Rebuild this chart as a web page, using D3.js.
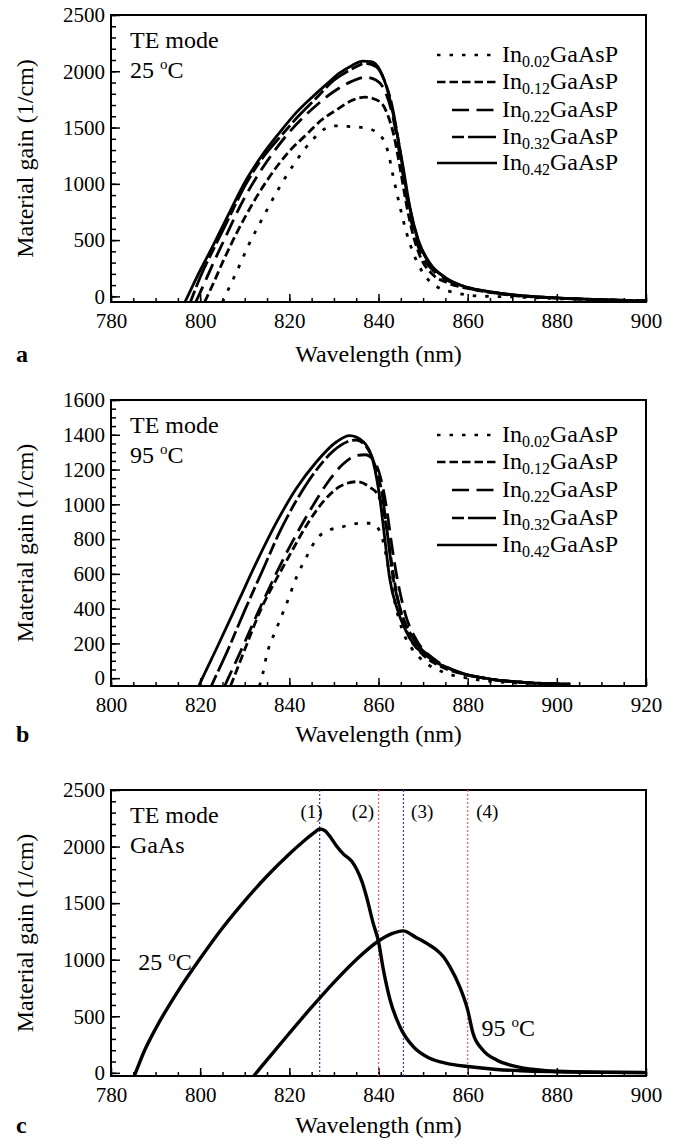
<!DOCTYPE html>
<html>
<head>
<meta charset="utf-8">
<script src="https://cdn.jsdelivr.net/npm/d3@7"></script>
<style>
	body { margin: 0; background: #fff; }
	svg { display: block; }
	svg text { font-family: "Times New Roman", Times, "Liberation Serif", "DejaVu Serif", serif; }
</style>
</head>
<body>
<div id="chart"></div>
<script>
// ---- data ----
// In composition of each well (legend order)
var inContent = ["0.02", "0.12", "0.22", "0.32", "0.42"];

// tick labels
var xTicksA = [780, 800, 820, 840, 860, 880, 900];
var yTicksA = [0, 500, 1000, 1500, 2000, 2500];
var xTicksB = [800, 820, 840, 860, 880, 900, 920];
var yTicksB = [0, 200, 400, 600, 800, 1000, 1200, 1400, 1600];

// panel a : 25 C, [wavelength nm, gain 1/cm]
var a002 = [[805, -50], [805.6, 0], [806.7, 95], [808.2, 220], [810.8, 450], [814.2, 710], [817.5, 950], [821.3, 1190], [825.4, 1400], [828, 1490], [830.5, 1515], [833, 1510], [837.3, 1494], [840.3, 1435], [842.2, 1273], [843.3, 1065], [844.8, 799], [846.3, 563], [847.8, 385], [850, 207], [853, 89], [857.5, 30], [862, 5], [870, -5], [880, -20], [890, -32], [900, -40]];
var a012 = [[801, -50], [801.6, 0], [803, 120], [805, 300], [810, 700], [815, 1030], [820, 1290], [823.9, 1440], [827, 1560], [830.6, 1657], [834.3, 1746], [837, 1770], [840.3, 1731], [842.2, 1598], [843.5, 1420], [844.8, 1150], [846.2, 830], [847.8, 540], [849.5, 340], [852, 200], [855.5, 120], [860, 70], [865, 35], [870, 10], [880, -15], [890, -30], [900, -40]];
var a022 = [[799, -50], [799.6, 0], [803, 300], [805, 470], [810, 880], [815, 1200], [820, 1460], [825, 1660], [830, 1820], [834, 1910], [837, 1947], [839.5, 1920], [841.5, 1820], [843.2, 1600], [844.8, 1250], [846.3, 880], [847.8, 590], [849.5, 380], [852, 240], [855.5, 140], [860, 75], [865, 38], [870, 12], [880, -15], [890, -30], [900, -40]];
var a032 = [[797.8, -50], [798.3, 0], [800, 170], [803, 420], [806, 660], [810, 980], [814, 1230], [818, 1420], [822, 1600], [826, 1760], [830, 1920], [834, 2020], [837, 2070], [839.5, 2040], [841.3, 1920], [843, 1700], [844.6, 1350], [846, 1000], [847.5, 700], [849, 480], [851.5, 290], [855.2, 160], [860, 78], [865, 40], [870, 14], [880, -14], [890, -30], [900, -40]];
var a042 = [[796.6, -50], [797.2, 0], [800, 230], [803, 460], [806, 700], [810.4, 1040], [814, 1260], [817.9, 1460], [821.5, 1630], [825.4, 1780], [828.5, 1890], [831.3, 1985], [834, 2050], [836.5, 2090], [838.3, 2085], [840.3, 2012], [842.2, 1805], [844, 1479], [845.5, 1154], [847, 799], [848.9, 503], [851.5, 296], [855.2, 163], [860, 80], [865, 42], [870, 15], [880, -14], [890, -30], [900, -40]];

// panel b : 95 C
var b002 = [[833.3, -45], [834, 20], [834.9, 130], [837.2, 290], [839.4, 430], [841.6, 580], [843.9, 700], [846.1, 800], [849.1, 853], [852.1, 872], [855.8, 891], [858.4, 891], [860.4, 840], [861.6, 720], [862.6, 580], [863.8, 420], [865.3, 280], [867.5, 170], [870.5, 90], [875, 30], [880, 0], [886, -20], [893, -30], [903, -35]];
var b012 = [[826.8, -45], [827.5, 0], [830.4, 191], [833.4, 383], [837.2, 575], [840.1, 709], [843.9, 881], [847.6, 1015], [851.3, 1102], [855.1, 1130], [858.1, 1098], [859.9, 1054], [861.2, 950], [862.4, 760], [863.5, 570], [864.8, 400], [866.5, 260], [869, 160], [873, 80], [878, 30], [885, -5], [893, -25], [903, -35]];
var b022 = [[825.5, -45], [826.3, 0], [829, 150], [833, 380], [837, 600], [841, 800], [845, 980], [849, 1140], [852, 1230], [855, 1280], [857, 1285], [859, 1250], [860.5, 1150], [861.8, 980], [863, 760], [864.3, 560], [866, 370], [868.5, 220], [872.5, 110], [878, 35], [885, -5], [893, -25], [903, -35]];
var b032 = [[822.5, -45], [823.3, 0], [826, 150], [830, 390], [834, 620], [838, 850], [842, 1040], [846, 1195], [850, 1310], [853, 1360], [855, 1370], [857, 1340], [859, 1240], [860.8, 1060], [862, 830], [863.2, 590], [865, 390], [867.5, 240], [872, 115], [878, 35], [885, -5], [893, -25], [903, -35]];
var b042 = [[819.7, -45], [820.5, 0], [823.7, 172], [828.9, 460], [832.7, 670], [837.2, 900], [841.6, 1092], [846.1, 1245], [850.6, 1360], [853.5, 1395], [856.6, 1360], [858.8, 1245], [860.3, 1035], [861.4, 805], [862.5, 575], [864.4, 383], [867, 230], [871.5, 115], [877.5, 38], [885, -5], [893, -25], [903, -35]];

// panel c : GaAs at 25 C and 95 C
var c25 = [[785.2, -28], [785.5, 0], [787.5, 195], [790, 390], [795, 720], [800, 1010], [805, 1280], [810, 1520], [815, 1740], [820, 1935], [823, 2040], [825.5, 2120], [826.8, 2155], [828, 2140], [829.1, 2090], [830.5, 2010], [832.1, 1935], [834, 1870], [835.1, 1800], [836.3, 1690], [837.3, 1558], [838.8, 1323], [840, 1160], [841.1, 910], [842.6, 644], [844.8, 408], [847.8, 231], [851.5, 128], [855.3, 84], [860, 56], [866.5, 30], [872, 18], [880, 10], [890, 5], [900, 2]];
var c95 = [[812, -28], [812.6, 0], [815, 115], [820, 350], [825, 580], [830, 800], [835, 1000], [840, 1165], [843, 1230], [845.5, 1255], [848.5, 1195], [851, 1140], [853, 1087], [854.7, 1020], [856, 939], [858.2, 762], [860, 556], [861.2, 350], [863.4, 202], [866.5, 113], [871, 54], [877.6, 19], [885, 8], [892, 4], [900, 2]];

// dotted marker wavelengths in panel c
var markerWl = [826.8, 840, 845.6, 860];
var markerLabel = ["(1)", "(2)", "(3)", "(4)"];
var markerLabelWl = [825, 836.5, 849.8, 864.4];
var markerColor = ["#3a3ad0", "#f06060", "#3a3ad0", "#f06060"];

// ---- layout ----
var plotLeft = 111,
	plotRight = 646;
var dashes = ["3.5,9", "8.5,4", "17,7.5", "12,4,28,4", null];
var legendStart = [437, 437, 452, 452, 437];

var svg = d3
	.select("#chart")
	.append("svg")
	.attr("width", 675)
	.attr("height", 1145);

function styleAxis(g) {
	g.select(".domain").remove();
	g.attr("font-family", null).attr("font-size", 21);
	g.selectAll("line").attr("stroke-width", 1.5);
}

function makePanel(id, top, bottom, xDomain, yDomain, xTicks, yTicks, yMinorStep, titleBase) {
	var x = d3.scaleLinear().domain(xDomain).range([plotLeft, plotRight]);
	var y = d3.scaleLinear().domain(yDomain).range([bottom, top]);

	svg
		.append("clipPath")
		.attr("id", "clip-" + id)
		.append("rect")
		.attr("x", plotLeft)
		.attr("y", top)
		.attr("width", plotRight - plotLeft)
		.attr("height", bottom - top);

	// minor x ticks (every 5 nm), pointing inward
	svg
		.append("g")
		.attr("transform", `translate(0,${bottom})`)
		.call(d3.axisBottom(x).tickValues(d3.range(xDomain[0], xDomain[1] + 1, 5)).tickSize(-4).tickFormat(""))
		.call(styleAxis);
	// major x ticks
	svg
		.append("g")
		.attr("transform", `translate(0,${bottom})`)
		.call(d3.axisBottom(x).tickValues(xTicks).tickSize(-8).tickPadding(11).tickFormat(d3.format("d")))
		.call(styleAxis);

	// minor y ticks
	svg
		.append("g")
		.attr("transform", `translate(${plotLeft},0)`)
		.call(d3.axisLeft(y).tickValues(d3.range(0, yDomain[1] + 1, yMinorStep)).tickSize(-5).tickFormat(""))
		.call(styleAxis);
	// major y ticks
	svg
		.append("g")
		.attr("transform", `translate(${plotLeft},0)`)
		.call(d3.axisLeft(y).tickValues(yTicks).tickSize(-9).tickPadding(6).tickFormat(d3.format("d")))
		.call(styleAxis);

	// frame
	svg
		.append("rect")
		.attr("x", plotLeft)
		.attr("y", top)
		.attr("width", plotRight - plotLeft)
		.attr("height", bottom - top)
		.attr("fill", "none")
		.attr("stroke", "#000")
		.attr("stroke-width", 2);

	// axis titles
	svg
		.append("text")
		.attr("x", (plotLeft + plotRight) / 2)
		.attr("y", titleBase)
		.attr("text-anchor", "middle")
		.attr("font-size", 24)
		.text("Wavelength (nm)");
	svg
		.append("text")
		.attr("transform", `translate(25,${(top + bottom) / 2}) rotate(-90)`)
		.attr("text-anchor", "middle")
		.attr("dy", "0.35em")
		.attr("font-size", 24)
		.text("Material gain (1/cm)");
	svg
		.append("text")
		.attr("x", 16)
		.attr("y", titleBase)
		.attr("font-size", 24)
		.attr("font-weight", "bold")
		.text(id);

	return { x: x, y: y, top: top, bottom: bottom };
}

// superscript "o" + C, as in the printed figure
function degree(t, temp) {
	t.append("tspan").text(temp + " ");
	t.append("tspan").attr("font-size", 15).attr("dy", -9).text("o");
	t.append("tspan").attr("dy", 9).text("C");
}

// two-line corner note
function note(top, line1, line2, deg) {
	svg.append("text").attr("x", 130).attr("y", top + 33).attr("font-size", 24).text(line1);
	var t = svg.append("text").attr("x", 130).attr("y", top + 63).attr("font-size", 24);
	if (deg) degree(t, line2);
	else t.text(line2);
}

function drawSeries(p, id, series, rowY) {
	var line = d3
		.line()
		.x((d) => p.x(d[0]))
		.y((d) => p.y(d[1]))
		.curve(d3.curveMonotoneX);

	svg
		.append("g")
		.attr("clip-path", `url(#clip-${id})`)
		.selectAll("path")
		.data(series)
		.join("path")
		.attr("fill", "none")
		.attr("stroke", "#000")
		.attr("stroke-width", 2.8)
		.attr("stroke-dasharray", (d, i) => dashes[i])
		.attr("d", (d) => line(d));

	// legend
	var leg = svg.append("g");
	inContent.forEach(function (c, i) {
		leg
			.append("line")
			.attr("x1", legendStart[i])
			.attr("x2", 497)
			.attr("y1", rowY[i])
			.attr("y2", rowY[i])
			.attr("stroke", "#000")
			.attr("stroke-width", 2.6)
			.attr("stroke-dasharray", dashes[i]);
		var t = leg.append("text").attr("x", 502).attr("y", rowY[i] + 7).attr("font-size", 24);
		t.append("tspan").text("In");
		t.append("tspan").attr("font-size", 16).attr("dy", 5).text(c);
		t.append("tspan").attr("dy", -5).text("GaAsP");
	});
}

// ---- panel a ----
var pa = makePanel("a", 15, 302, [780, 900], [-50, 2500], xTicksA, yTicksA, 100, 362);
drawSeries(pa, "a", [a002, a012, a022, a032, a042], [55, 82, 110, 137, 163]);
note(15, "TE mode", "25", true);

// ---- panel b ----
var pb = makePanel("b", 400, 686, [800, 920], [-45, 1600], xTicksB, yTicksB, 50, 742);
drawSeries(pb, "b", [b002, b012, b022, b032, b042], [435, 462, 490, 518, 545]);
note(400, "TE mode", "95", true);

// ---- panel c ----
var pc = makePanel("c", 790, 1076, [780, 900], [-28, 2500], xTicksA, yTicksA, 100, 1133);

// dotted markers
svg
	.append("g")
	.selectAll("line")
	.data(markerWl)
	.join("line")
	.attr("x1", (d) => pc.x(d))
	.attr("x2", (d) => pc.x(d))
	.attr("y1", pc.top)
	.attr("y2", pc.bottom)
	.attr("stroke", (d, i) => markerColor[i])
	.attr("stroke-width", 1.2)
	.attr("stroke-dasharray", "2,2");
svg
	.append("g")
	.selectAll("text")
	.data(markerLabel)
	.join("text")
	.attr("x", (d, i) => pc.x(markerLabelWl[i]))
	.attr("y", 818)
	.attr("text-anchor", "middle")
	.attr("font-size", 19)
	.text((d) => d);

var lineC = d3
	.line()
	.x((d) => pc.x(d[0]))
	.y((d) => pc.y(d[1]))
	.curve(d3.curveMonotoneX);
svg
	.append("g")
	.attr("clip-path", "url(#clip-c)")
	.selectAll("path")
	.data([c25, c95])
	.join("path")
	.attr("fill", "none")
	.attr("stroke", "#000")
	.attr("stroke-width", 3.4)
	.attr("d", (d) => lineC(d));

note(790, "TE mode", "GaAs", false);
degree(svg.append("text").attr("x", pc.x(786.1)).attr("y", 970).attr("font-size", 24), "25");
degree(svg.append("text").attr("x", pc.x(863.1)).attr("y", 1036).attr("font-size", 24), "95");
</script>
</body>
</html>
